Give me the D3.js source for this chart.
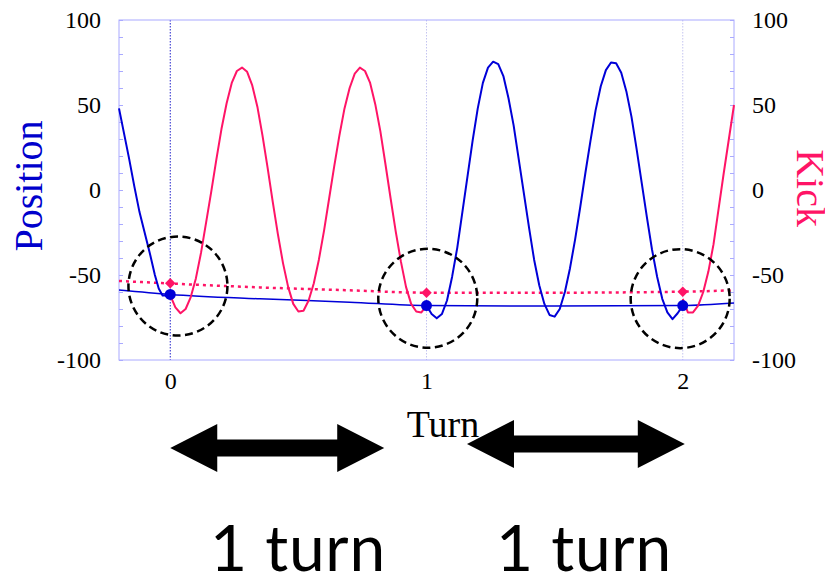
<!DOCTYPE html>
<html>
<head>
<meta charset="utf-8">
<script src="https://cdn.jsdelivr.net/npm/d3@7"></script>
<style>
  html, body { margin: 0; padding: 0; background: #fff; }
  svg { display: block; }
</style>
</head>
<body>
<svg id="chart" width="825" height="579"></svg>
<script>
// Beam position and kicker signal over two turns: [turn, value]
const positionBefore = [
  [-0.20, 48], [-0.18, 33], [-0.16, 18], [-0.14, 2], [-0.12, -13], [-0.10, -25],
  [-0.08, -37], [-0.06, -50], [-0.045, -58], [-0.03, -62], [-0.015, -62], [0.00, -61.4]
];
const positionTurn2 = [
  [1.00, -68], [1.02, -73], [1.04, -75.5], [1.06, -73], [1.08, -65], [1.10, -51],
  [1.12, -34], [1.14, -13], [1.16, 8], [1.18, 29], [1.20, 48], [1.22, 63],
  [1.24, 72], [1.26, 75.5], [1.28, 74], [1.30, 67], [1.32, 54], [1.34, 38],
  [1.36, 18], [1.38, -2], [1.40, -22], [1.42, -41], [1.44, -56], [1.46, -67],
  [1.48, -73.5], [1.50, -74.5], [1.52, -70], [1.54, -60], [1.56, -46], [1.58, -29],
  [1.60, -10], [1.62, 10], [1.64, 29], [1.66, 47], [1.68, 61], [1.70, 70.5],
  [1.72, 75], [1.74, 74.5], [1.76, 69], [1.78, 58], [1.80, 43], [1.82, 24],
  [1.84, 4], [1.86, -16], [1.88, -35], [1.90, -51], [1.92, -64], [1.94, -72],
  [1.96, -76], [1.98, -72.5], [2.00, -68]
];
const kickTurn1 = [
  [0.00, -62], [0.02, -69], [0.04, -72.5], [0.06, -70], [0.08, -63], [0.10, -52],
  [0.12, -37], [0.14, -19], [0.16, -1], [0.18, 18], [0.20, 36], [0.22, 51],
  [0.24, 63], [0.26, 70], [0.28, 72], [0.30, 69.5], [0.32, 61.5], [0.34, 49],
  [0.36, 32], [0.38, 13], [0.40, -7], [0.42, -26], [0.44, -43], [0.46, -57],
  [0.48, -67], [0.50, -71.5], [0.52, -71], [0.54, -65], [0.56, -55], [0.58, -41],
  [0.60, -24], [0.62, -5], [0.64, 14], [0.66, 32], [0.68, 48], [0.70, 60],
  [0.72, 68.5], [0.74, 72], [0.76, 70], [0.78, 63], [0.80, 50.5], [0.82, 34.5],
  [0.84, 15], [0.86, -5], [0.88, -24.5], [0.90, -42], [0.92, -57], [0.94, -67],
  [0.96, -71.5], [0.98, -72], [1.00, -68]
];
const kickAfter = [
  [2.00, -64], [2.02, -72], [2.04, -72], [2.06, -68], [2.08, -60], [2.10, -48],
  [2.12, -32], [2.14, -11], [2.16, 10], [2.18, 30], [2.20, 50]
];

// Turn-by-turn averages
const positionTrend = [[-0.2, -58.8], [0, -61.4], [0.35, -64], [0.7, -66], [1, -68], [1.5, -68.3], [2, -68], [2.2, -66.5]];
const kickTrend = [[-0.2, -53.5], [0, -55], [0.35, -57.3], [0.7, -59], [1, -60.4], [1.5, -60.4], [2, -59.8], [2.2, -59]];
const positionSamples = [[0, -61.4], [1, -68], [2, -68]];
const kickSamples = [[0, -54.9], [1, -60.4], [2, -59.8]];

// Highlighted regions around each sample: [turn, value]
const highlightCenters = [[0.03, -56.5], [1.005, -63.7], [1.99, -63.9]];

// Axis definitions
const turnTicks = [0, 1, 2];
const valueTicks = d3.range(-100, 101, 10);
const valueLabels = [-100, -50, 0, 50, 100];

// One-turn spans marked below the axis
const turnSpans = [[0, 0.835], [1.158, 2.008]];
const spanLabels = ["1 turn", "1 turn"];

const BLUE = "#0000d8";
const PINK = "#ff1466";
const FRAME = "#aaaaff";
const SERIF = "'Liberation Serif', 'Times New Roman', serif";

const svg = d3.select("#chart");
const plot = { left: 119, right: 734, top: 20, bottom: 360 };

const x = d3.scaleLinear().domain([-0.2, 2.2]).range([plot.left, plot.right]);
const y = d3.scaleLinear().domain([-100, 100]).range([plot.bottom, plot.top]);

// Vertical guides at each turn
svg.append("g").selectAll("line").data(turnTicks).join("line")
  .attr("x1", d => x(d)).attr("x2", d => x(d))
  .attr("y1", plot.top).attr("y2", plot.bottom)
  .attr("stroke", d => d === 0 ? "#2222cc" : "#c4c4f0")
  .attr("stroke-width", 1)
  .attr("stroke-dasharray", "1.5,1.5");

// Frame
svg.append("rect")
  .attr("x", plot.left).attr("y", plot.top)
  .attr("width", plot.right - plot.left).attr("height", plot.bottom - plot.top)
  .attr("fill", "none").attr("stroke", FRAME).attr("stroke-width", 1);

const fmt = d => valueLabels.includes(d) ? String(d) : "";

const leftAxis = svg.append("g")
  .attr("transform", `translate(${plot.left},0)`)
  .call(d3.axisLeft(y).tickValues(valueTicks).tickFormat(fmt).tickSize(-4).tickPadding(18));
const rightAxis = svg.append("g")
  .attr("transform", `translate(${plot.right},0)`)
  .call(d3.axisRight(y).tickValues(valueTicks).tickFormat(fmt).tickSize(-4).tickPadding(18));
const bottomAxis = svg.append("g")
  .attr("transform", `translate(0,${plot.bottom})`)
  .call(d3.axisBottom(x).tickValues(turnTicks).tickFormat(d3.format("d")).tickSize(0).tickPadding(12));

[leftAxis, rightAxis, bottomAxis].forEach(g => {
  g.attr("font-family", null).attr("font-size", null);
  g.select(".domain").remove();
  g.selectAll(".tick line").attr("stroke", FRAME);
  g.selectAll(".tick text")
    .style("font-family", SERIF).style("font-size", "24px").attr("fill", "#000");
});

// Curves
const line = d3.line().x(d => x(d[0])).y(d => y(d[1]));
const smooth = d3.line().x(d => x(d[0])).y(d => y(d[1])).curve(d3.curveMonotoneX);

svg.append("path").datum(positionTrend)
  .attr("d", smooth).attr("fill", "none").attr("stroke", BLUE).attr("stroke-width", 1.5);
svg.append("path").datum(kickTrend)
  .attr("d", smooth).attr("fill", "none").attr("stroke", PINK)
  .attr("stroke-width", 2.5).attr("stroke-dasharray", "3,4");

[kickTurn1, kickAfter].forEach(seg => {
  svg.append("path").datum(seg)
    .attr("d", line).attr("fill", "none").attr("stroke", PINK)
    .attr("stroke-width", 2).attr("stroke-linejoin", "round");
});
[positionBefore, positionTurn2].forEach(seg => {
  svg.append("path").datum(seg)
    .attr("d", line).attr("fill", "none").attr("stroke", BLUE)
    .attr("stroke-width", 2).attr("stroke-linejoin", "round");
});

// Sample markers
svg.append("g").selectAll("path").data(kickSamples).join("path")
  .attr("transform", d => `translate(${x(d[0])},${y(d[1])})`)
  .attr("d", d3.symbol(d3.symbolDiamond2, 70))
  .attr("fill", PINK);
svg.append("g").selectAll("circle").data(positionSamples).join("circle")
  .attr("cx", d => x(d[0])).attr("cy", d => y(d[1])).attr("r", 5.5)
  .attr("fill", BLUE);

// Dashed highlight rings
svg.append("g").selectAll("circle").data(highlightCenters).join("circle")
  .attr("cx", d => x(d[0])).attr("cy", d => y(d[1])).attr("r", 49.5)
  .attr("fill", "none").attr("stroke", "#000")
  .attr("stroke-width", 2.5).attr("stroke-dasharray", "8,4.5");

// Axis titles
svg.append("text")
  .attr("transform", "translate(42,186) rotate(-90)")
  .attr("text-anchor", "middle")
  .style("font-family", SERIF).style("font-size", "40px").attr("fill", "#0000cc")
  .text("Position");
svg.append("text")
  .attr("transform", "translate(797,188) rotate(90)")
  .attr("text-anchor", "middle")
  .style("font-family", SERIF).style("font-size", "40px").attr("fill", PINK)
  .text("Kick");
svg.append("text")
  .attr("x", 443).attr("y", 437)
  .attr("text-anchor", "middle")
  .style("font-family", SERIF).style("font-size", "38px").attr("fill", "#000")
  .text("Turn");

// Double-headed arrows spanning one turn
const arrowY = [448, 444];
const headLen = 47, headHalf = 24, shaftHalf = 8.5;
svg.append("g").selectAll("path").data(turnSpans).join("path")
  .attr("d", (d, i) => {
    const a = x(d[0]), b = x(d[1]), c = arrowY[i];
    return `M${a},${c} L${a + headLen},${c - headHalf} L${a + headLen},${c - shaftHalf}` +
      ` L${b - headLen},${c - shaftHalf} L${b - headLen},${c - headHalf} L${b},${c}` +
      ` L${b - headLen},${c + headHalf} L${b - headLen},${c + shaftHalf}` +
      ` L${a + headLen},${c + shaftHalf} L${a + headLen},${c + headHalf} Z`;
  })
  .attr("fill", "#000");

// Span captions
svg.append("g").selectAll("text").data(turnSpans).join("text")
  .attr("x", (d, i) => [298, 584][i])
  .attr("y", 571)
  .attr("text-anchor", "middle")
  .style("font-family", "Lato, 'Open Sans', sans-serif")
  .style("font-size", "64px").style("letter-spacing", "0.8px").attr("fill", "#000")
  .text((d, i) => spanLabels[i]);
</script>
</body>
</html>
